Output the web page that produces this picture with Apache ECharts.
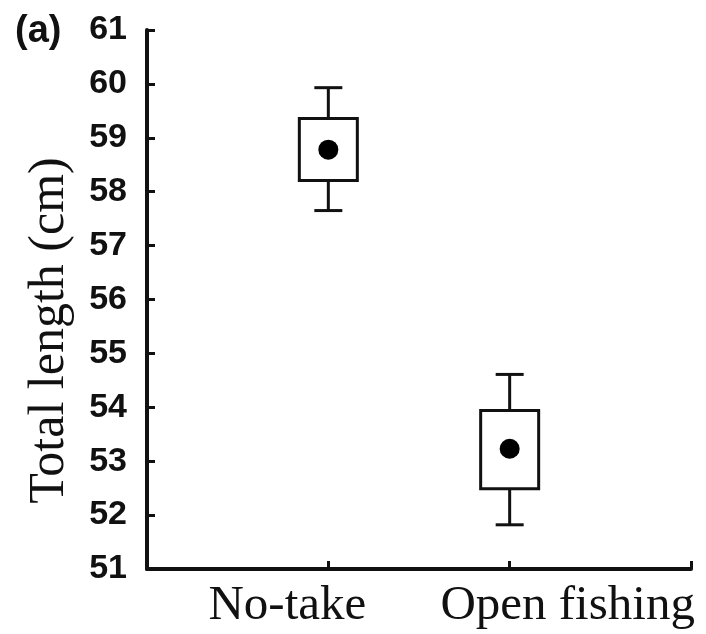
<!DOCTYPE html>
<html>
<head>
<meta charset="utf-8">
<script src="https://cdn.jsdelivr.net/npm/echarts@6/dist/echarts.min.js"></script>
<style>
  html, body { margin: 0; padding: 0; background: #fff; }
  #chart { width: 706px; height: 634px; }
</style>
</head>
<body>
<div id="chart"></div>
<script>
// values
const categories = ["No-take", "Open fishing"];
const means = [58.78, 53.23];
const boxLow = [58.21, 52.49];
const boxHigh = [59.36, 53.94];
const whiskerLow = [57.65, 51.82];
const whiskerHigh = [59.93, 54.61];
const yTicks = { min: 51, max: 61, step: 1 };

const ink = "#111";
const serif = "Liberation Serif";
const sans = "Liberation Sans";

const boxData = categories.map((c, i) => [i + 1, whiskerLow[i], boxLow[i], boxHigh[i], whiskerHigh[i]]);
const meanData = categories.map((c, i) => [i + 1, means[i]]);

function renderBox(params, api) {
  const x = api.value(0);
  const wl = api.coord([x, api.value(1)]);
  const bl = api.coord([x, api.value(2)]);
  const bh = api.coord([x, api.value(3)]);
  const wh = api.coord([x, api.value(4)]);
  const cx = wl[0];
  const halfBox = 29;
  const halfCap = 14;
  const style = { stroke: ink, lineWidth: 3, fill: "#fff" };
  return {
    type: "group",
    children: [
      { type: "line", shape: { x1: cx, y1: wh[1], x2: cx, y2: bh[1] }, style },
      { type: "line", shape: { x1: cx, y1: bl[1], x2: cx, y2: wl[1] }, style },
      { type: "line", shape: { x1: cx - halfCap, y1: wh[1], x2: cx + halfCap, y2: wh[1] }, style },
      { type: "line", shape: { x1: cx - halfCap, y1: wl[1], x2: cx + halfCap, y2: wl[1] }, style },
      { type: "rect", shape: { x: cx - halfBox, y: bh[1], width: halfBox * 2, height: bl[1] - bh[1] }, style },
    ],
  };
}

const chart = echarts.init(document.getElementById("chart"), null, { renderer: "canvas" });
chart.setOption({
  animation: false,
  title: {
    text: "(a)",
    left: 15,
    top: 13,
    padding: 0,
    textStyle: { fontFamily: sans, fontSize: 38, fontWeight: "bold", color: ink },
  },
  grid: { left: 147, right: 15, top: 30, bottom: 65, outerBoundsMode: "none" },
  xAxis: {
    type: "value",
    min: 0,
    max: 3,
    interval: 1,
    axisLine: { lineStyle: { color: ink, width: 4 } },
    axisTick: { inside: true, length: 8, lineStyle: { color: ink, width: 3 } },
    splitLine: { show: false },
    axisLabel: {
      margin: 13,
      formatter: v => {
        if (v === 1) return "{l|" + categories[0] + "}";
        if (v === 2) return "{r|" + categories[1] + "}";
        return "";
      },
      rich: {
        l: { fontFamily: serif, fontSize: 49, color: ink, padding: [0, 82, 0, 0] },
        r: { fontFamily: serif, fontSize: 49, color: ink, padding: [0, 0, 0, 116] },
      },
    },
  },
  yAxis: {
    type: "value",
    min: yTicks.min,
    max: yTicks.max,
    interval: yTicks.step,
    name: "Total length (cm)",
    nameLocation: "middle",
    nameGap: 72,
    nameTextStyle: { fontFamily: serif, fontSize: 50, color: ink, padding: [0, 62, 0, 0] },
    axisLine: { show: true, lineStyle: { color: ink, width: 4 } },
    axisTick: { show: true, inside: true, length: 8, lineStyle: { color: ink, width: 3 } },
    splitLine: { show: false },
    axisLabel: { margin: 20, fontFamily: sans, fontSize: 34, fontWeight: "bold", color: ink },
  },
  series: [
    {
      type: "custom",
      renderItem: renderBox,
      data: boxData,
      encode: { x: 0, y: [1, 2, 3, 4] },
      z: 2,
    },
    {
      type: "scatter",
      data: meanData,
      symbol: "circle",
      symbolSize: 20,
      itemStyle: { color: "#000", opacity: 1 },
      z: 3,
    },
  ],
});
</script>
</body>
</html>
